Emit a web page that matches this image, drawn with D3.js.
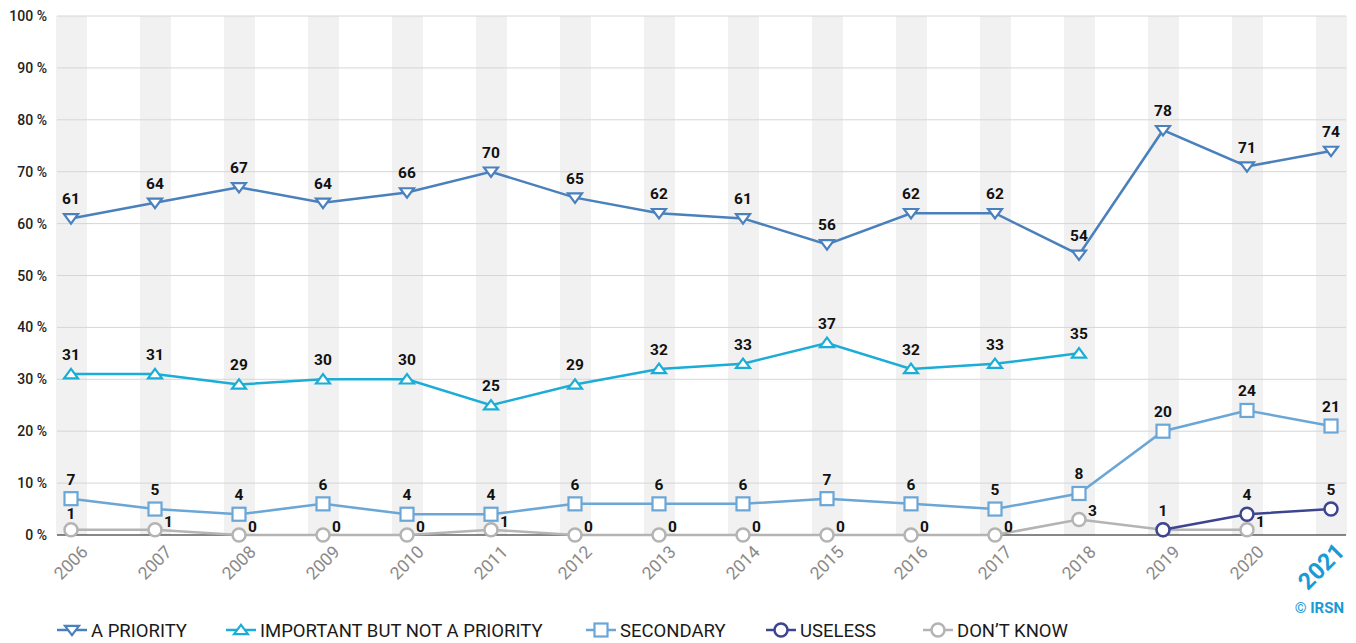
<!DOCTYPE html>
<html><head><meta charset="utf-8">
<script src="https://cdn.jsdelivr.net/npm/d3@7"></script>
<style>body{margin:0;background:#fff;font-family:Roboto,"Noto Sans",sans-serif;}</style>
</head><body>
<svg id="c" width="1356" height="643"></svg>
<script>
const years = ["2006","2007","2008","2009","2010","2011","2012","2013","2014","2015","2016","2017","2018","2019","2020","2021"];
const aPriority = [61,64,67,64,66,70,65,62,61,56,62,62,54,78,71,74];
const important = [31,31,29,30,30,25,29,32,33,37,32,33,35,null,null,null];
const secondary = [7,5,4,6,4,4,6,6,6,7,6,5,8,20,24,21];
const useless = [null,null,null,null,null,null,null,null,null,null,null,null,null,1,4,5];
const dontKnow = [1,1,0,0,0,1,0,0,0,0,0,0,3,1,1,null];
const yTicks = [0,10,20,30,40,50,60,70,80,90,100];
const seriesNames = ["A PRIORITY","IMPORTANT BUT NOT A PRIORITY","SECONDARY","USELESS","DON\u2019T KNOW"];

const series = [
  {name:seriesNames[0], values:aPriority, color:"#4a80bc", sym:"down"},
  {name:seriesNames[1], values:important, color:"#1badd6", sym:"up"},
  {name:seriesNames[2], values:secondary, color:"#6aa6d6", sym:"square"},
  {name:seriesNames[3], values:useless, color:"#3d4490", sym:"circle"},
  {name:seriesNames[4], values:dontKnow, color:"#b4b4b4", sym:"circle"}
];

const svg = d3.select("#c");
const pLeft = 57, pRight = 1346, pTop = 16, pBottom = 535;
const x = d3.scalePoint().domain(years).range([71, 1331]);
const y = d3.scaleLinear().domain([0,100]).range([pBottom, pTop]);

// bands
svg.append("g").selectAll("rect").data(years).join("rect")
  .attr("x", d => x(d) - 15).attr("y", pTop).attr("width", 31).attr("height", pBottom - pTop)
  .attr("fill", "#f1f1f1");

// grid
svg.append("g").selectAll("line").data(yTicks.filter(d => d > 0)).join("line")
  .attr("x1", pLeft).attr("x2", pRight).attr("y1", d => y(d)).attr("y2", d => y(d))
  .attr("stroke", "#d6d6d6").attr("stroke-width", 1);
svg.append("line").attr("x1", pLeft).attr("x2", pRight).attr("y1", y(0)).attr("y2", y(0))
  .attr("stroke", "#111").attr("stroke-width", 1.2);

// y labels
svg.append("g").selectAll("text").data(yTicks).join("text")
  .attr("x", 47).attr("y", d => y(d) + 5).attr("text-anchor", "end")
  .attr("font-size", 14).attr("font-weight", 500).attr("fill", "#222")
  .text(d => d + " %");

// x labels
svg.append("g").selectAll("text").data(years).join("text")
  .attr("transform", (d, i) => i === years.length - 1
      ? `translate(${x(d) + 15},${553}) rotate(-45)`
      : `translate(${x(d) + 18},${553}) rotate(-45)`)
  .attr("text-anchor", "end")
  .attr("font-size", (d, i) => i === years.length - 1 ? 23.5 : 17.5)
  .attr("font-weight", (d, i) => i === years.length - 1 ? 700 : 400)
  .attr("fill", (d, i) => i === years.length - 1 ? "#1a9ad6" : "#8a8a8a")
  .text(d => d);

svg.append("text").attr("x", 1344).attr("y", 613).attr("text-anchor", "end")
  .attr("font-size", 15).attr("font-weight", 700).attr("fill", "#1a9ad6").text("\u00a9 IRSN");

function marker(g, sym, color, cx, cy) {
  const s = 7;
  if (sym === "down") {
    g.append("path").attr("d", `M${cx-s},${cy-s*0.6} L${cx+s},${cy-s*0.6} L${cx},${cy+s*0.75} Z`)
      .attr("fill", "#fff").attr("stroke", color).attr("stroke-width", 2.2).attr("stroke-linejoin","miter");
  } else if (sym === "up") {
    g.append("path").attr("d", `M${cx-s},${cy+s*0.6} L${cx+s},${cy+s*0.6} L${cx},${cy-s*0.75} Z`)
      .attr("fill", "#fff").attr("stroke", color).attr("stroke-width", 2.2);
  } else if (sym === "square") {
    g.append("rect").attr("x", cx - 6.5).attr("y", cy - 6.5).attr("width", 13).attr("height", 13)
      .attr("fill", "#fff").attr("stroke", color).attr("stroke-width", 2.2);
  } else {
    g.append("circle").attr("cx", cx).attr("cy", cy).attr("r", 6.5)
      .attr("fill", "#fff").attr("stroke", color).attr("stroke-width", 2.5);
  }
}

const line = d3.line().defined(d => d.v != null).x(d => x(d.year)).y(d => y(d.v));
const order = [4,3,2,1,0];
order.forEach(si => {
  const s = series[si];
  const pts = years.map((yr, i) => ({year: yr, v: s.values[i], i}));
  const g = svg.append("g");
  g.append("path").datum(pts).attr("d", line).attr("fill", "none")
    .attr("stroke", s.color).attr("stroke-width", 2.5);
  pts.filter(p => p.v != null).forEach(p => marker(g, s.sym, s.color, x(p.year), y(p.v)));
});

// labels
series.forEach((s, si) => {
  const g = svg.append("g");
  years.forEach((yr, i) => {
    const v = s.values[i];
    if (v == null) return;
    if (si === 4 && series[3].values[i] === v) return;
    let lx = x(yr), ly = y(v) - 14, anchor = "middle";
    if (si === 4 && i > 0) { lx = x(yr) + 9; ly = y(v) - 3; anchor = "start"; }
    if (si === 4 && i === 0) { ly = y(v) - 11; }
    g.append("text").attr("x", lx).attr("y", ly).attr("text-anchor", anchor)
      .attr("font-size", 15.5).attr("font-weight", 700).attr("fill", "#111").text(v);
  });
});

// legend
const legX = [72, 241, 601, 781, 938];
const lg = svg.append("g");
series.forEach((s, si) => {
  const cx = legX[si], cy = 630;
  lg.append("line").attr("x1", cx - 15).attr("x2", cx + 15).attr("y1", cy).attr("y2", cy)
    .attr("stroke", s.color).attr("stroke-width", 2.5);
  marker(lg, s.sym, s.color, cx, cy);
  lg.append("text").attr("x", cx + 19).attr("y", cy + 7).attr("font-size", 18.5)
    .attr("fill", "#1a1a1a").text(s.name);
});
</script>
</body></html>
